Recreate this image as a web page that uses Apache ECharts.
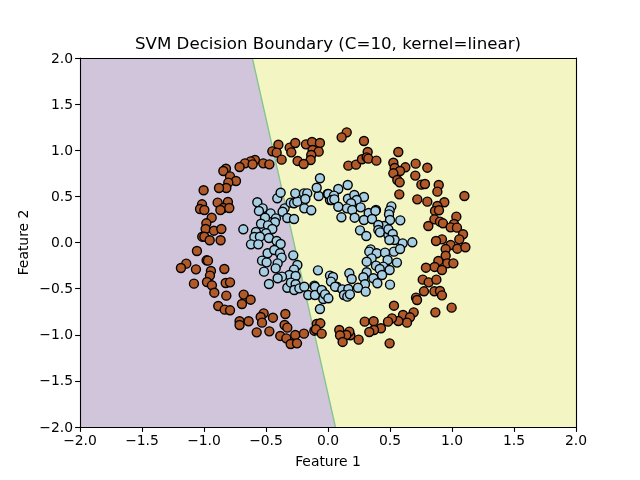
<!DOCTYPE html>
<html><head><meta charset="utf-8">
<style>html,body{margin:0;padding:0;background:#fff}#c{width:640px;height:480px}</style>
<script src="https://cdn.jsdelivr.net/npm/echarts@6/dist/echarts.min.js"></script>
</head><body><div id="c"></div>
<script>
const titleText = "SVM Decision Boundary (C=10, kernel=linear)";
const xName = "Feature 1", yName = "Feature 2";
const tickValues = [-2, -1.5, -1, -0.5, 0, 0.5, 1, 1.5, 2];
const tickLabels = ["\u22122.0", "\u22121.5", "\u22121.0", "\u22120.5", "0.0", "0.5", "1.0", "1.5", "2.0"];
const boundary = [[-0.61, 2], [0.06, -2]];
const regionLeft = [[-2, 2], [-0.61, 2], [0.06, -2], [-2, -2]];
const regionRight = [[-0.61, 2], [2, 2], [2, -2], [0.06, -2]];
const outerRing = [
[-0.40,1.06],[-0.449,0.988],[-0.414,0.974],[-0.374,0.898],[-0.309,1.028],[-0.296,0.977],[-0.264,1.079],[-0.178,1.064],[-0.129,1.09],[-0.065,1.079],[-0.124,1.003],[-0.075,0.985],[-0.135,0.949],[-0.140,0.894],[-0.245,0.884],[-0.196,0.851],
[-0.589,0.894],[-0.624,0.880],[-0.670,0.858],[-0.713,0.818],[-0.608,0.847],[-0.522,0.858],[-0.473,0.847],[-0.823,0.800],[-0.844,0.775],[-0.790,0.717],[-0.742,0.667],[-0.804,0.649],[-0.820,0.591],[-0.879,0.591],[-1.003,0.566],[-1.016,0.414],[-1.032,0.363],[-0.997,0.352],[-0.890,0.432],[-0.807,0.439],[-0.844,0.374],[-0.868,0.352],[-0.796,0.374],[-0.938,0.269],[-0.981,0.208],[-0.987,0.146],[-0.920,0.128],[-0.860,0.146],[-1.014,0.063],[-0.997,0.063],[-0.954,0.024],[-0.866,0.024],
[-1.057,-0.092],[-0.979,-0.193],[-0.968,-0.197],[-1.143,-0.229],[-1.186,-0.276],[-1.065,-0.291],[-0.944,-0.309],[-0.836,-0.287],[-0.952,-0.359],[-1.081,-0.446],[-0.976,-0.428],[-0.936,-0.464],[-0.825,-0.439],[-0.790,-0.432],[-0.917,-0.544],[-0.820,-0.576],[-0.680,-0.565],[-0.624,-0.620],[-0.694,-0.667],[-0.885,-0.688],[-0.833,-0.728],[-0.790,-0.735],[-0.713,-0.854],[-0.713,-0.894],[-0.640,-0.854],[-0.519,-0.768],[-0.543,-0.807],[-0.532,-0.869],[-0.444,-0.815],[-0.344,-0.775],[-0.350,-0.894],[-0.328,-0.923],[-0.575,-0.974],[-0.473,-0.963],[-0.385,-1.013],[-0.336,-1.039],[-0.264,-1.003],[-0.194,-0.988],[-0.301,-1.100],[-0.250,-1.093],[-0.110,-0.956],[-0.091,-0.883],[-0.062,-0.876],[-0.097,-0.941],[-0.051,-0.988],
[0.151,1.194],[0.110,1.140],[0.290,1.100],[0.320,0.981],[0.164,0.833],[0.226,0.844],[0.274,0.902],[0.312,0.923],[0.325,0.909],[0.390,0.887],[0.567,0.981],[0.527,0.865],[0.538,0.808],[0.624,0.815],[0.707,0.855],[0.801,0.811],[0.581,0.775],[0.527,0.750],[0.704,0.725],[0.559,0.678],[0.578,0.652],[0.753,0.627],[0.782,0.634],[0.893,0.623],[0.882,0.551],[1.100,0.504],[0.575,0.522],[0.720,0.468],[0.801,0.443],[0.938,0.436],[0.882,0.396],[0.863,0.342],[0.895,0.349],[0.858,0.251],[0.903,0.226],[0.927,0.208],[0.809,0.179],[1.035,0.280],[1.016,0.201],[0.989,0.164],[1.040,0.161],[1.089,0.089],[1.059,0.034],[0.919,0.034],[0.871,0.016],
[0.989,-0.027],[0.949,-0.071],[1.043,-0.067],[1.108,-0.052],[0.949,-0.143],[0.890,-0.200],[0.962,-0.226],[1.011,-0.226],[0.860,-0.265],[0.790,-0.273],[0.919,-0.298],[0.764,-0.403],[0.812,-0.432],[0.874,-0.403],[0.774,-0.529],[0.858,-0.529],[0.903,-0.526],[0.919,-0.573],[0.710,-0.598],[0.718,-0.623],[0.997,-0.706],[0.866,-0.757],[0.532,-0.685],[0.691,-0.757],[0.605,-0.786],[0.661,-0.811],[0.637,-0.869],[0.567,-0.851],[0.516,-0.822],[0.484,-0.858],[0.296,-0.858],[0.368,-0.854],[0.427,-0.930],[0.371,-0.948],[0.333,-0.970],[0.247,-1.053],[0.180,-1.006],[0.172,-0.966],[0.148,-1.003],[0.091,-0.948],[0.097,-1.006],[0.118,-1.078],[0.497,-1.093]
];
const innerRing = [
[-0.683,0.143],[-0.570,0.436],[-0.527,0.370],[-0.557,0.342],[-0.463,0.316],[-0.508,0.269],[-0.420,0.262],[-0.428,0.219],[-0.540,0.204],[-0.484,0.186],[-0.449,0.146],[-0.581,0.114],[-0.500,0.100],[-0.594,0.060],[-0.549,0.063],[-0.476,0.049],[-0.414,0.016],[-0.621,-0.020],[-0.562,-0.020],[-0.382,-0.016],[-0.409,0.479],[-0.382,0.540],[-0.350,0.370],[-0.366,0.334],[-0.328,0.266],[-0.274,0.255],[-0.301,0.432],[-0.274,0.425],[-0.247,0.443],[-0.264,0.533],[-0.194,0.533],[-0.167,0.533],[-0.183,0.472],[-0.191,0.370],[-0.135,0.349],[-0.075,0.504],[-0.091,0.594],[-0.065,0.696],[-0.003,0.526],[0.016,0.461],
[-0.532,-0.197],[-0.495,-0.215],[-0.487,-0.117],[-0.433,-0.081],[-0.387,-0.117],[-0.374,-0.164],[-0.406,-0.226],[-0.422,-0.280],[-0.516,-0.316],[-0.280,-0.139],[-0.247,-0.244],[-0.274,-0.294],[-0.312,-0.352],[-0.261,-0.363],[-0.371,-0.370],[-0.406,-0.388],[-0.476,-0.450],[-0.328,-0.490],[-0.299,-0.435],[-0.261,-0.453],[-0.272,-0.515],[-0.231,-0.497],[-0.191,-0.479],[-0.081,-0.302],[-0.110,-0.468],[-0.105,-0.479],[-0.159,-0.569],[-0.105,-0.569],[-0.046,-0.526],[-0.024,-0.562],[-0.038,-0.612],[-0.065,-0.721],
[0.159,0.623],[0.083,0.580],[0.003,0.526],[0.048,0.508],[0.030,0.461],[0.051,0.468],[0.161,0.475],[0.212,0.515],[0.290,0.493],[0.231,0.461],[0.186,0.425],[0.083,0.388],[0.153,0.370],[0.196,0.352],[0.263,0.381],[0.215,0.269],[0.108,0.273],[0.328,0.320],[0.387,0.352],[0.382,0.342],[0.290,0.244],[0.355,0.255],[0.511,0.392],[0.497,0.345],[0.492,0.305],[0.500,0.244],[0.583,0.240],[0.452,0.179],[0.406,0.190],[0.406,0.136],[0.419,0.110],[0.258,0.132],[0.309,0.070],[0.487,0.081],[0.487,0.143],[0.522,0.092],[0.538,0.027],[0.495,0.027],[0.602,-0.009],[0.680,0.002],
[0.532,-0.099],[0.581,-0.070],[0.344,-0.074],[0.333,-0.099],[0.393,-0.117],[0.460,-0.110],[0.352,-0.172],[0.481,-0.190],[0.312,-0.208],[0.556,-0.218],[0.387,-0.251],[0.446,-0.262],[0.417,-0.287],[0.497,-0.298],[0.312,-0.323],[0.436,-0.352],[0.285,-0.377],[0.366,-0.388],[0.398,-0.442],[0.500,-0.457],[0.298,-0.453],[0.242,-0.490],[0.304,-0.533],[0.172,-0.334],[0.191,-0.396],[0.016,-0.359],[0.040,-0.374],[0.024,-0.424],[0.070,-0.479],[0.057,-0.479],[0.116,-0.508],[0.164,-0.504],[0.129,-0.569],[0.156,-0.587],[0.177,-0.562],[-0.051,-0.515],[-0.024,-0.562],[0.003,-0.605]
];
const font = "DejaVu Sans";
const fmt = v => { const i = tickValues.indexOf(v); return i >= 0 ? tickLabels[i] : ""; };
const fmtY = v => "{a|" + fmt(v) + "}";
const chart = echarts.init(document.getElementById("c"), null, {renderer: "canvas"});
const polySeries = (pts, color, z) => ({
  type: "custom", coordinateSystem: "cartesian2d", silent: true, z, clip: true,
  data: pts,
  encode: {x: 0, y: 1},
  renderItem: (p, api) => p.dataIndex === 0 ? {
    type: "polygon",
    shape: {points: pts.map(q => api.coord(q))},
    style: {fill: color, stroke: null}
  } : null
});
const scatterBase = {
  type: "scatter", symbol: "circle", symbolSize: 9, z: 4, silent: true, animation: false
};
const sideAxis = {
  min: -2, max: 2, interval: 0.5, type: "value", z: 10,
  axisLine: {show: true, onZero: false, lineStyle: {color: "#000", width: 1.1}},
  axisTick: {show: false}, axisLabel: {show: false}, splitLine: {show: false}
};
const mainAxis = (name, extra, labelExtra) => Object.assign({
  type: "value", min: -2, max: 2, interval: 0.5, z: 10,
  name, nameLocation: "middle", nameMoveOverlap: false,
  nameTextStyle: {color: "#000", fontFamily: font, fontSize: 13.9},
  axisLine: {show: true, onZero: false, lineStyle: {color: "#000", width: 1.1}},
  axisTick: {show: true, length: 4.9, inside: false, lineStyle: {color: "#000", width: 1.1}},
  axisLabel: Object.assign({show: true, color: "#000", fontFamily: font, fontSize: 13.9, margin: 7, formatter: fmt, hideOverlap: false, showMinLabel: true, showMaxLabel: true}, labelExtra),
  splitLine: {show: false}
}, extra);
chart.setOption({
  animation: false,
  backgroundColor: "#fff",
  title: {text: titleText, left: 323, top: 31, textAlign: "center", textStyle: {color: "#000", fontFamily: font, fontSize: 16.67, fontWeight: "normal"}},
  grid: {left: 80, right: 64, top: 58, bottom: 53, containLabel: false},
  xAxis: [mainAxis(xName, {position: "bottom", nameGap: 28}, {}), Object.assign({position: "top"}, sideAxis)],
  yAxis: [mainAxis(yName, {position: "left", nameGap: 49}, {formatter: fmtY, rich: {a: {color: "#000", fontFamily: font, fontSize: 13.9, padding: [2, 0, 0, 0]}}}), Object.assign({position: "right"}, sideAxis)],
  series: [
    polySeries(regionLeft, "#d1c5dc", 1),
    polySeries(regionRight, "#f3f6c3", 1),
    {type: "line", data: boundary, symbol: "none", z: 2, silent: true, lineStyle: {color: "#82c48c", width: 1.3}},
    Object.assign({}, scatterBase, {data: outerRing, itemStyle: {color: "#b15928", borderColor: "#000", borderWidth: 1.39, opacity: 1}}),
    Object.assign({}, scatterBase, {data: innerRing, itemStyle: {color: "#a6cee3", borderColor: "#000", borderWidth: 1.39, opacity: 1}})
  ]
});
</script></body></html>
